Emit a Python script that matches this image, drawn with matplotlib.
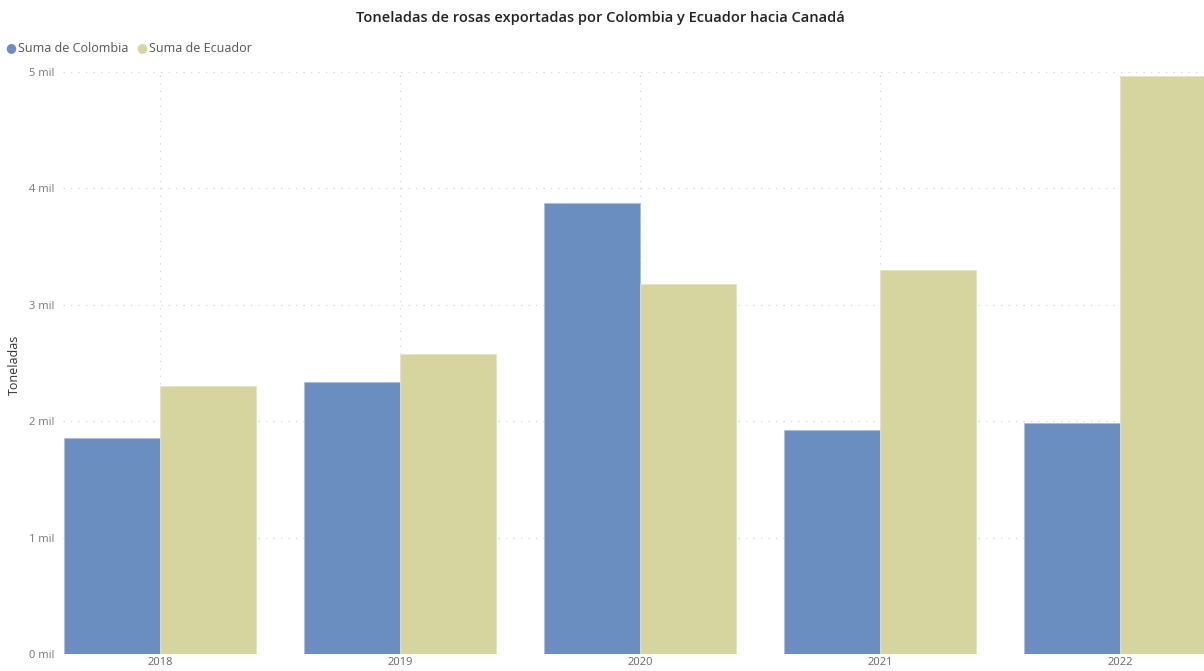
import numpy as np
import matplotlib.pyplot as plt

plt.rcParams['font.family'] = ['Open Sans', 'DejaVu Sans']

# data
years = ["2018", "2019", "2020", "2021", "2022"]
colombia = [1.856, 2.337, 3.875, 1.924, 1.985]
ecuador = [2.302, 2.577, 3.179, 3.299, 4.966]
yticks = [0, 1, 2, 3, 4, 5]
ylabels = ["0 mil", "1 mil", "2 mil", "3 mil", "4 mil", "5 mil"]

c_col = "#6B8EC1"
c_ecu = "#D6D5A0"

fig = plt.figure(figsize=(12.04, 6.71), dpi=100)
ax = fig.add_axes([63 / 1204, 17 / 671, 1 - 63 / 1204, (654 - 72) / 671])

x = np.arange(len(years))
w = 0.4
ax.bar(x - w / 2, colombia, w, color=c_col, edgecolor="#A9BDDC", linewidth=0.5, zorder=3)
ax.bar(x + w / 2, ecuador, w, color=c_ecu, edgecolor="#E4E3C2", linewidth=0.5, zorder=3)

ax.set_xlim(-0.404, 4.35)
ax.set_ylim(0, 5)
ax.set_xticks(x)
ax.set_xticklabels(years, fontsize=8, color="#666666")
ax.set_yticks(yticks)
ax.set_yticklabels(ylabels, fontsize=8, color="#777777")
ax.tick_params(length=0, pad=6)
ax.tick_params(axis="x", pad=2)
ax.grid(True, linestyle=(0, (1, 5)), color="#D4D4D4", linewidth=0.9, zorder=0)
for s in ax.spines.values():
    s.set_visible(False)

fig.text(14 / 1204, 1 - 365 / 671, "Toneladas", rotation=90, fontsize=9,
         color="#333333", ha="center", va="center")
fig.text(600 / 1204, 1 - 18 / 671, "Toneladas de rosas exportadas por Colombia y Ecuador hacia Canadá",
         fontsize=10.5, color="#222222", ha="center", va="center", fontweight="semibold")

# legend
ly = 1 - 48 / 671
fig.text(11 / 1204, ly, "\u25CF", color=c_col, fontsize=9, ha="center", va="center")
fig.text(18 / 1204, ly, "Suma de Colombia", color="#555555", fontsize=9, ha="left", va="center")
fig.text(142 / 1204, ly, "\u25CF", color=c_ecu, fontsize=9, ha="center", va="center")
fig.text(149 / 1204, ly, "Suma de Ecuador", color="#555555", fontsize=9, ha="left", va="center")

fig.savefig("out.png", dpi=100)
